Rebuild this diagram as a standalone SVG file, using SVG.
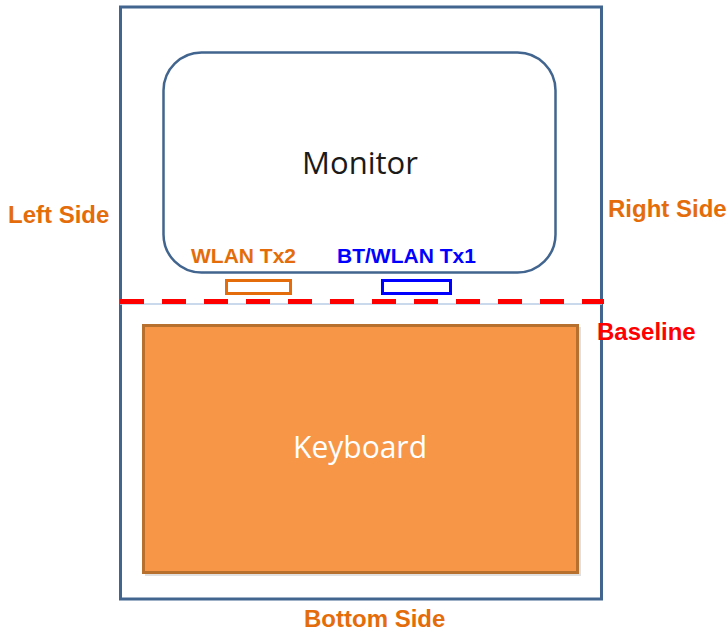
<svg xmlns="http://www.w3.org/2000/svg" width="728" height="633" viewBox="0 0 728 633">
<style>
.side{font-family:"Liberation Sans",Arial,sans-serif;font-weight:bold;font-size:24px;fill:#E46C0A}
.tx{font-family:"Liberation Sans",Arial,sans-serif;font-weight:bold;font-size:21px}
.big{font-family:"Open Sans","DejaVu Sans",sans-serif;font-size:31px;text-anchor:middle}
</style>
<rect width="728" height="633" fill="#fff"/>
<g id="laptop">
<rect x="120.5" y="7" width="481" height="592" fill="none" stroke="#41658F" stroke-width="3"/>
</g>
<g id="monitor">
<rect x="163.5" y="52.5" width="392" height="220" rx="38" ry="38" fill="#fff" stroke="#41658F" stroke-width="2.5"/>
<text class="big" x="360" y="174" fill="#1a1a1a" textLength="116" lengthAdjust="spacingAndGlyphs">Monitor</text>
</g>
<g id="keyboard">
<rect x="145" y="327" width="436" height="249" fill="#000" opacity="0.12"/>
<rect x="143.5" y="325.5" width="434" height="247" fill="#F79646" stroke="#B8702F" stroke-width="3"/>
<text class="big" x="360" y="458" fill="#fff" textLength="134" lengthAdjust="spacingAndGlyphs">Keyboard</text>
</g>
<g id="wlan-tx2">
<rect x="226.5" y="280.5" width="64" height="13" fill="#fff" stroke="#E46C0A" stroke-width="3"/>
<text class="tx" x="191" y="263" fill="#E46C0A">WLAN Tx2</text>
</g>
<g id="bt-wlan-tx1">
<rect x="382.5" y="280.5" width="68" height="13" fill="#fff" stroke="#0000FF" stroke-width="3"/>
<text class="tx" x="337" y="263" fill="#0000FF">BT/WLAN Tx1</text>
</g>
<g id="connectors">
<line x1="120" y1="304" x2="602" y2="304" stroke="#B9CDE5" stroke-width="1.5"/>
<line x1="120" y1="301.5" x2="604" y2="301.5" stroke="#FF0000" stroke-width="5" stroke-dasharray="24 18"/>
</g>
<g id="labels">
<text class="side" x="8" y="223">Left Side</text>
<text class="side" x="608" y="217">Right Side</text>
<text class="side" x="304" y="627">Bottom Side</text>
<text class="side" x="597" y="340" fill="#FF0000" style="fill:#FF0000">Baseline</text>
</g>
</svg>
